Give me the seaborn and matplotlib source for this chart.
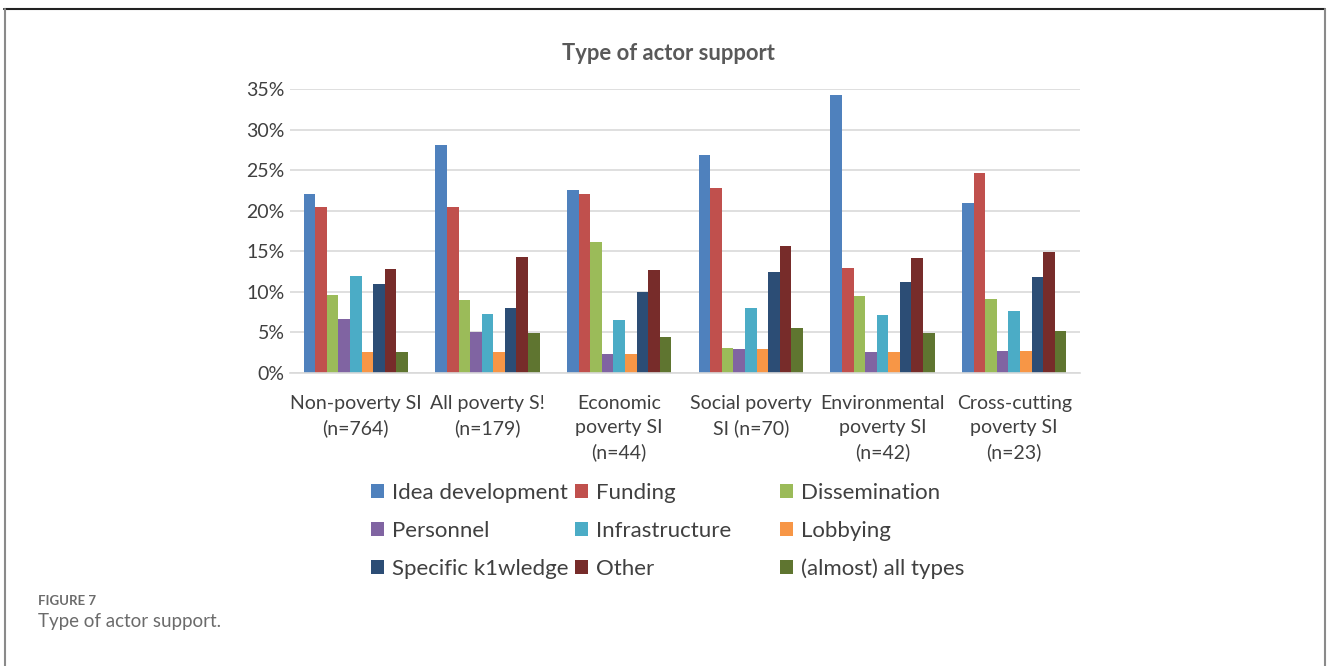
import matplotlib
matplotlib.use("Agg")
import matplotlib.pyplot as plt
from matplotlib.patches import Patch
from matplotlib.lines import Line2D
from matplotlib.ticker import PercentFormatter
import seaborn as sns
import pandas as pd

# Groups of social innovations (x axis)
groups = [
    "Non-poverty SI\n(n=764)",
    "All poverty S!\n(n=179)",
    "Economic\npoverty SI\n(n=44)",
    "Social poverty\nSI (n=70)",
    "Environmental\npoverty SI\n(n=42)",
    "Cross-cutting\npoverty SI\n(n=23)",
]

# Support types (legend / hue)
support_types = [
    "Idea development", "Funding", "Dissemination",
    "Personnel", "Infrastructure", "Lobbying",
    "Specific k1wledge", "Other", "(almost) all types",
]

# Share of actors per support type, one list per group (fractions)
non_poverty   = [0.221, 0.204, 0.096, 0.067, 0.119, 0.026, 0.110, 0.128, 0.026]
all_poverty   = [0.281, 0.204, 0.090, 0.050, 0.073, 0.026, 0.080, 0.143, 0.049]
economic      = [0.226, 0.221, 0.162, 0.023, 0.065, 0.023, 0.100, 0.127, 0.044]
social        = [0.269, 0.228, 0.031, 0.029, 0.080, 0.029, 0.124, 0.157, 0.055]
environmental = [0.343, 0.129, 0.095, 0.026, 0.072, 0.026, 0.112, 0.142, 0.049]
cross_cutting = [0.209, 0.247, 0.091, 0.027, 0.076, 0.027, 0.118, 0.149, 0.052]

palette = ["#4F81BD", "#C0504D", "#9BBB59", "#8064A2", "#4BACC6",
           "#F79646", "#2C4D75", "#772C2A", "#5F7530"]

series = [non_poverty, all_poverty, economic, social, environmental, cross_cutting]
rows = []
for g, vals in zip(groups, series):
    for t, v in zip(support_types, vals):
        rows.append({"group": g, "type": t, "share": v})
df = pd.DataFrame(rows)

sns.set_theme(style="white")
plt.rcParams["font.family"] = ["Lato", "DejaVu Sans"]

W, H = 1328, 666
fig = plt.figure(figsize=(W / 100, H / 100), dpi=100)
ax = fig.add_axes([290 / W, 1 - 373 / H, (1080 - 290) / W, (373 - 89) / H])

sns.barplot(data=df, x="group", y="share", hue="type", order=groups,
            hue_order=support_types, palette=palette, width=0.79,
            saturation=1, ax=ax, legend=False, edgecolor="none", linewidth=0)

text_col = "#404040"
ax.set_ylim(0, 0.35)
ax.set_yticks([i * 0.05 for i in range(8)])
ax.yaxis.set_major_formatter(PercentFormatter(1.0, decimals=0))
ax.yaxis.grid(True, color="#D9D9D9", linewidth=1.2)
ax.set_axisbelow(True)
for s in ["top", "right", "left"]:
    ax.spines[s].set_visible(False)
ax.spines["bottom"].set_color("#D9D9D9")
ax.spines["bottom"].set_linewidth(1.2)
ax.set_xlabel("")
ax.set_ylabel("")
ax.tick_params(axis="y", length=0, pad=4, labelsize=14, labelcolor=text_col)
ax.tick_params(axis="x", length=0, pad=16, labelsize=14, labelcolor=text_col)
for lbl in ax.get_xticklabels():
    lbl.set_linespacing(1.47)

fig.text(668 / W, 1 - 53 / H, "Type of actor support", ha="center", va="center",
         fontsize=15.8, fontweight="bold", color="#595959")

# Legend laid out as three columns, rows filled left to right
col_x = [371, 575, 780]
for c in range(3):
    items = [support_types[c + 3 * r] for r in range(3)]
    cols = [palette[c + 3 * r] for r in range(3)]
    handles = [Patch(facecolor=col, edgecolor="none") for col in cols]
    leg = fig.legend(handles, items, loc="upper left",
                     bbox_to_anchor=(col_x[c] / W, 1 - 483 / H),
                     frameon=False, fontsize=16, handlelength=0.58,
                     handleheight=0.58, handletextpad=0.35, labelspacing=0.8,
                     borderpad=0, borderaxespad=0)
    for t in leg.get_texts():
        t.set_color(text_col)

# Caption below the chart
fig.text(38 / W, 1 - 601 / H, "FIGURE 7", ha="left", va="center",
         fontsize=9.5, fontweight="bold", color="#6b6b6b")
fig.text(38 / W, 1 - 621 / H, "Type of actor support.", ha="left", va="center",
         fontsize=13.5, color="#6b6b6b")

# Frame around the figure panel
fig.add_artist(Line2D([4 / W, 1325 / W], [1 - 9 / H, 1 - 9 / H],
                      transform=fig.transFigure, color="#222222", linewidth=1.5))
fig.add_artist(Line2D([4.5 / W, 4.5 / W], [0, 1 - 9 / H],
                      transform=fig.transFigure, color="#8a8a8a", linewidth=1.5))
fig.add_artist(Line2D([1325 / W, 1325 / W], [0, 1 - 9 / H],
                      transform=fig.transFigure, color="#8a8a8a", linewidth=1.5))

fig.savefig("out.png", dpi=100, facecolor="white")
